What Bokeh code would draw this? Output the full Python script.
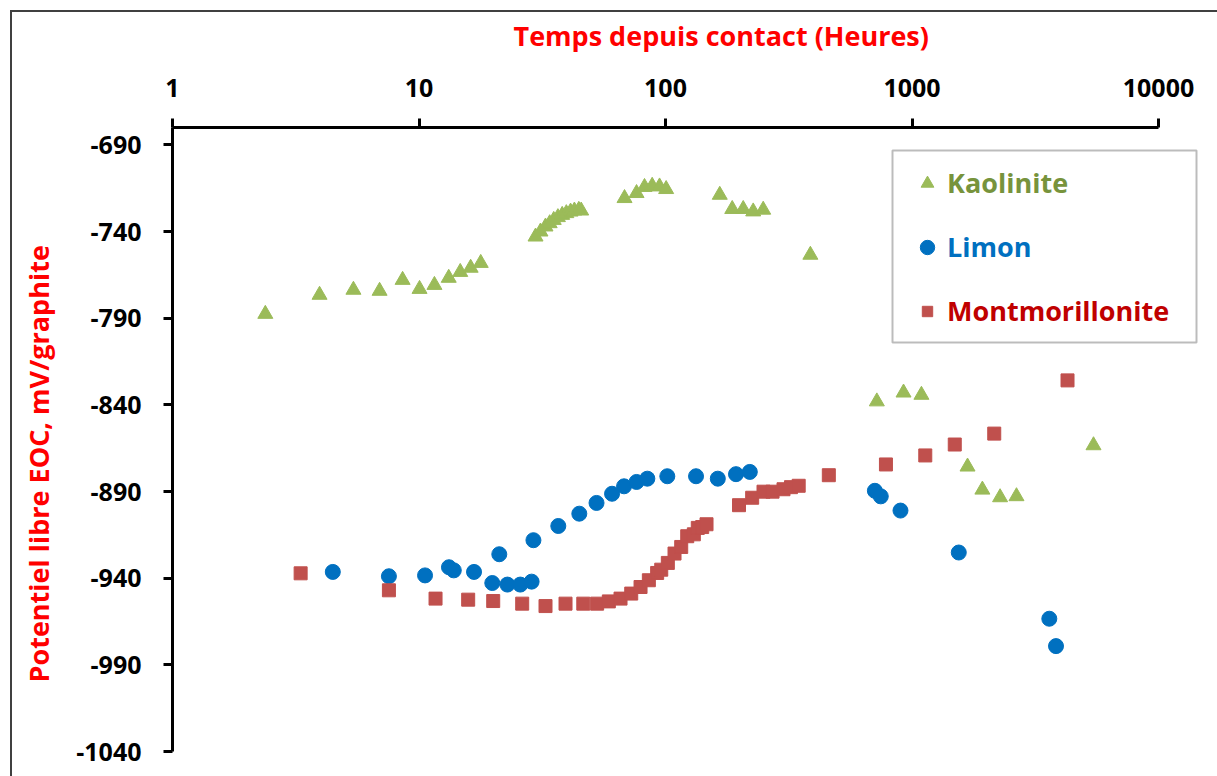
from bokeh.plotting import figure
from bokeh.models import FixedTicker, Range1d, Title, Legend, LegendItem, BoxAnnotation
from bokeh.embed import file_html
from bokeh.resources import INLINE

# ---------------- data ----------------
x_ticks = [1, 10, 100, 1000, 10000]
x_tick_labels = ["1", "10", "100", "1000", "10000"]
y_ticks = [-1040, -990, -940, -890, -840, -790, -740, -690]
y_tick_labels = ["-1040", "-990", "-940", "-890", "-840", "-790", "-740", "-690"]

series_names = ["Kaolinite", "Limon", "Montmorillonite"]

kaol_t = [2.38, 3.95, 5.42, 6.92, 8.58, 10.05, 11.55, 13.2, 14.7, 16.2, 17.8,
          29.7, 31.1, 32.6, 33.9, 35.2, 36.6, 38.1, 39.6, 41.2, 42.7, 44.5, 45.5,
          68.2, 76.3, 82.2, 88.3, 94.6, 100.6,
          166, 186.5, 206.7, 226.9, 249.1, 387,
          720, 924, 1092, 1680, 1930, 2277, 2654, 5449]
kaol_v = [-787.6, -776.6, -773.7, -774.3, -768.0, -773.2, -770.9, -766.8, -763.4, -761.0, -758.2,
          -743.0, -740.1, -737.2, -735.3, -733.4, -731.8, -730.5, -729.5, -728.6, -728.0, -727.6, -728.0,
          -720.8, -717.9, -714.4, -713.7, -714.1, -715.6,
          -718.9, -727.1, -727.1, -728.5, -727.5, -753.5,
          -838.1, -833.0, -834.3, -875.7, -889.0, -893.4, -892.8, -863.4]

limon_t = [4.47, 7.55, 10.58, 13.23, 13.84, 16.72, 19.83, 21.17, 22.84, 25.76, 28.63, 29.12,
           36.74, 44.7, 52.5, 60.7, 67.9, 76.3, 84.4, 101.7, 133.0, 163.0, 193.2, 219.8,
           707, 747, 898, 1548, 3606, 3839]
limon_v = [-936.4, -938.9, -938.4, -933.7, -935.5, -936.4, -942.8, -926.2, -943.7, -943.7, -942.0, -918.1,
           -909.9, -902.8, -896.6, -891.3, -887.0, -884.5, -882.6, -881.2, -881.2, -882.6, -880.0, -878.7,
           -889.6, -892.8, -901.0, -925.2, -963.4, -979.2]

mont_t = [3.31, 7.55, 11.67, 15.83, 20.0, 26.22, 32.6, 39.3, 46.4, 52.8, 58.9, 65.7, 72.6, 79.2,
          85.6, 92.5, 96.1, 102.2, 108.8, 115.8, 122.5, 130.3, 135.2, 140.9, 146.7,
          198.7, 224.7, 249.8, 271.8, 301.1, 322.9, 347.0, 459.8, 784, 1132, 1491, 2156, 4275]
mont_v = [-937.2, -947.0, -951.8, -952.4, -953.2, -954.7, -956.1, -954.7, -954.7, -954.7, -953.4, -951.8, -948.9, -945.1,
          -941.2, -937.0, -935.1, -931.2, -925.8, -922.0, -915.8, -914.7, -911.0, -910.5, -908.9,
          -897.9, -893.6, -890.1, -890.1, -888.7, -887.5, -886.7, -880.6, -874.4, -869.2, -862.9, -856.6, -825.9]

FONT = "Open Sans"

# layout geometry (pixels)
SHIFT_X, SHIFT_Y = 4, 9          # canvas is shifted up/left by these amounts
W, H = 1217 + SHIFT_X, 776 + SHIFT_Y
ML, MT, MB = 172 + SHIFT_X, 127 + SHIFT_Y, 25
frame_w = W - ML
axis_px = 986  # pixels spanned by the four decades 1..10000
x_end = 10 ** (4 * frame_w / axis_px)

bx, by = 10 + SHIFT_X, 10 + SHIFT_Y
p = figure(width=W, height=H, x_axis_type="log", x_axis_location="above",
           x_range=Range1d(1, x_end), y_range=Range1d(-1040, -680),
           output_backend="svg", toolbar_location=None,
           min_border_left=ML, min_border_top=MT, min_border_right=0, min_border_bottom=MB)
p.styles = {
    "margin-left": f"-{SHIFT_X}px", "margin-top": f"-{SHIFT_Y}px",
    "background": (f"linear-gradient(#404040, #404040) {bx}px {by}px / 2px 100% no-repeat, "
                   f"linear-gradient(#404040, #404040) {bx}px {by}px / 100% 2px no-repeat, #ffffff"),
}
p.border_fill_color = None
p.background_fill_color = None
p.outline_line_color = None
p.xgrid.visible = False
p.ygrid.visible = False
p.xaxis.bounds = (x_ticks[0], x_ticks[-1])

for ax, ticks, labels, stand in ((p.xaxis, x_ticks, x_tick_labels, 22),
                                 (p.yaxis, y_ticks, y_tick_labels, 22)):
    ax.ticker = FixedTicker(ticks=ticks)
    ax.major_label_overrides = {t: l for t, l in zip(ticks, labels)}
    ax.minor_tick_line_color = None
    ax.major_tick_in = 0
    ax.major_tick_out = 9
    ax.axis_line_width = 3
    ax.major_tick_line_width = 3
    ax.axis_line_color = "black"
    ax.major_tick_line_color = "black"
    ax.major_label_text_font = FONT
    ax.major_label_text_font_style = "bold"
    ax.major_label_text_font_size = "25px"
    ax.major_label_text_color = "black"
    ax.major_label_standoff = stand

r_k = p.scatter(kaol_t, kaol_v, marker="triangle", size=15,
                fill_color="#9BBB59", line_color="#9BBB59")
r_l = p.scatter(limon_t, limon_v, marker="circle", size=15,
                fill_color="#0070C0", line_color="#0070C0")
r_m = p.scatter(mont_t, mont_v, marker="square", size=13,
                fill_color="#C0504D", line_color="#C0504D")

xt = Title(text="Temps depuis contact (Heures)", align="left", offset=341,
           text_color="#FF0000", text_font=FONT, text_font_style="bold",
           text_font_size="27px", standoff=44)
p.add_layout(xt, "above")
yt = Title(text="Potentiel libre EOC, mV/graphite", align="left", offset=69,
           text_color="#FF0000", text_font=FONT, text_font_style="bold",
           text_font_size="27px", standoff=34)
p.add_layout(yt, "left")

# legend box
box = BoxAnnotation(left=720, right=1024, bottom=409, top=601,
                    left_units="screen", right_units="screen",
                    bottom_units="screen", top_units="screen",
                    fill_alpha=0, line_color="#222222", line_width=2)
p.add_layout(box)

leg_specs = [(r_k, series_names[0], "#77933C", 32, 550),
             (r_l, series_names[1], "#0070C0", 36, 486),
             (r_m, series_names[2], "#C00000", 26, 422)]
for r, name, col, gsize, yb in leg_specs:
    lg = Legend(items=[LegendItem(label=name, renderers=[r])],
                location=(755 - gsize // 2, yb),
                label_text_color=col, label_text_font=FONT, label_text_font_style="bold",
                label_text_font_size="27px", glyph_width=gsize, glyph_height=gsize,
                label_standoff=20 - gsize // 2, padding=0, margin=0, spacing=0,
                border_line_color=None, background_fill_alpha=0)
    p.add_layout(lg, "center")

open("out.html", "w").write(file_html(p, INLINE))
